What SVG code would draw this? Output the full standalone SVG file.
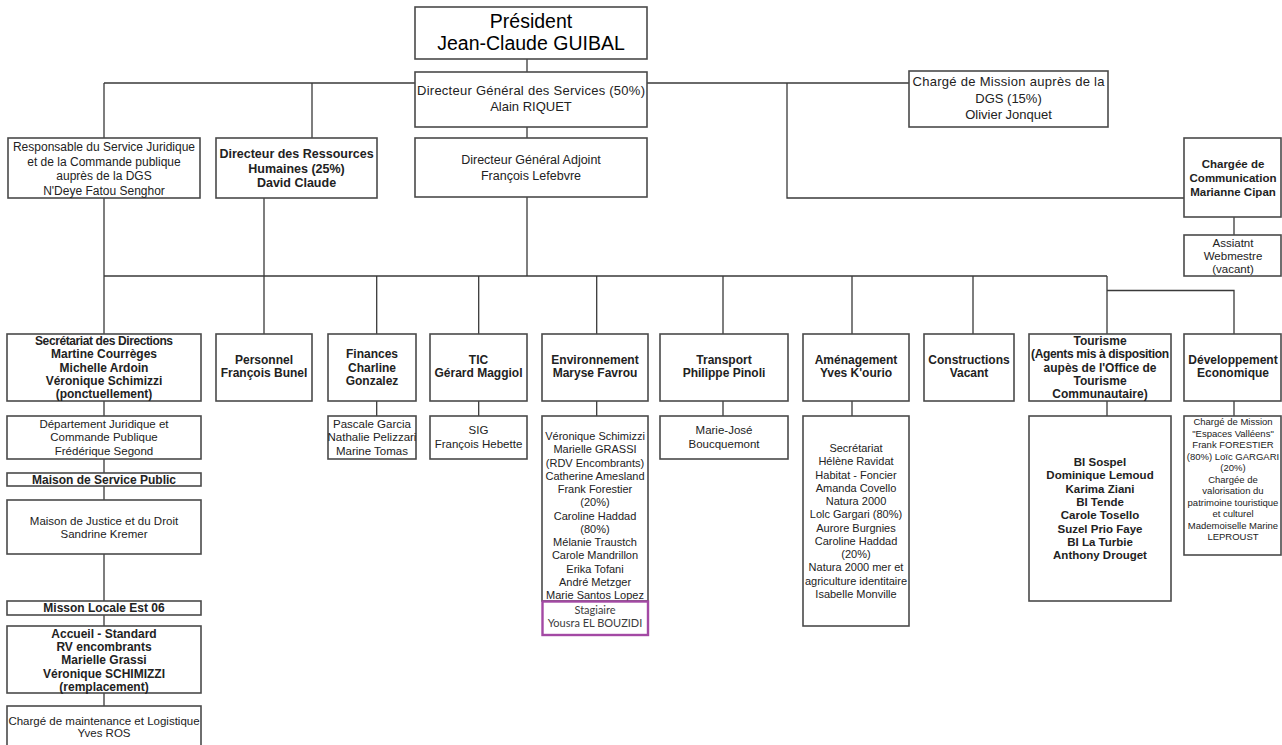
<svg xmlns="http://www.w3.org/2000/svg" width="1282" height="745" viewBox="0 0 1282 745">
<style>
.bg{fill:#ffffff}
.box{fill:#ffffff;stroke:#4a4a4a;stroke-width:1.6}
.stag{fill:#ffffff;stroke:#a349a4;stroke-width:2.4}
.ln{fill:none;stroke:#3a3a3a;stroke-width:1.3}
text{font-family:"Liberation Sans",Arial,sans-serif;fill:#222222;text-anchor:middle}
.r{font-size:12px}
.r13{font-size:13px}
.r125{font-size:12.5px}
.r11{font-size:11px}
.r115{font-size:11.5px}
.r95{font-size:9.5px}
.b{font-size:12px;font-weight:bold}
.b125{font-size:12.5px;font-weight:bold}
.b115{font-size:11.5px;font-weight:bold}
.pres{font-size:19.5px;fill:#000000}
.st{font-family:Lato,"Open Sans",sans-serif;font-size:11px;fill:#3c3c3c}
</style>
<rect class="bg" x="0" y="0" width="1282" height="745"/>

<g id="connectors">
<path class="ln" d="M527 59V72 M527 127V138 M527 197V276"/>
<path class="ln" d="M104 83H415 M647 83H909 M104 83V138 M312 83V138 M787 83V198H1184"/>
<path class="ln" d="M1234 217V235"/>
<path class="ln" d="M104 198V334 M264 198V334 M104 276H1107 M376.7 276V334 M478.7 276V334 M596.7 276V334 M723 276V334 M852 276V334 M973 276V334 M1107 276V334 M1107 290.5H1234V334"/>
<path class="ln" d="M104 401V416 M104 459V473 M104 486V500 M104 554V601 M104 615V626 M104 693V706"/>
<path class="ln" d="M376.7 401V416 M478.7 401V416 M596.7 401V416 M723 401V416 M852 401V416 M1107 401V416 M1234 401V416"/>
</g>

<g id="president">
<rect class="box" x="415" y="7" width="232" height="52"/>
<text class="pres" x="531" y="27.5">Président</text>
<text class="pres" x="531" y="49.5">Jean-Claude GUIBAL</text>
</g>

<g id="dgs">
<rect class="box" x="415" y="72" width="232" height="55"/>
<text class="r13" x="531" y="94.5" textLength="228">Directeur Général des Services (50%)</text>
<text class="r13" x="531" y="110.5">Alain RIQUET</text>
</g>

<g id="charge-mission">
<rect class="box" x="909" y="71" width="199" height="56"/>
<text class="r13" x="1008.5" y="86.2" textLength="192">Chargé de Mission auprès de la</text>
<text class="r13" x="1008.5" y="102.8">DGS (15%)</text>
<text class="r13" x="1008.5" y="118.8">Olivier Jonquet</text>
</g>

<g id="dga">
<rect class="box" x="415" y="138" width="232" height="59"/>
<text class="r125" x="531" y="164.4">Directeur Général Adjoint</text>
<text class="r125" x="531" y="180.4">François Lefebvre</text>
</g>

<g id="responsable-juridique">
<rect class="box" x="8" y="138" width="192" height="60"/>
<text class="r" x="104" y="151">Responsable du Service Juridique</text>
<text class="r" x="104" y="165.7">et de la Commande publique</text>
<text class="r" x="104" y="180.4">auprès de la DGS</text>
<text class="r" x="104" y="195">N'Deye Fatou Senghor</text>
</g>

<g id="drh">
<rect class="box" x="216" y="138" width="161" height="60"/>
<text class="b125" x="296.5" y="157.7">Directeur des Ressources</text>
<text class="b125" x="296.5" y="172.7">Humaines (25%)</text>
<text class="b125" x="296.5" y="187">David Claude</text>
</g>

<g id="communication">
<rect class="box" x="1184" y="138" width="97" height="79"/>
<text class="b115" x="1233" y="168.3">Chargée de</text>
<text class="b115" x="1233" y="182.3">Communication</text>
<text class="b115" x="1233" y="195.7">Marianne Cipan</text>
</g>

<g id="webmestre">
<rect class="box" x="1184" y="235" width="97" height="41"/>
<text class="r115" x="1233" y="247.3">Assiatnt</text>
<text class="r115" x="1233" y="260">Webmestre</text>
<text class="r115" x="1233" y="273.3">(vacant)</text>
</g>

<g id="secretariat">
<rect class="box" x="7" y="334" width="194" height="67"/>
<text class="b" x="104" y="345" textLength="138">Secrétariat des Directions</text>
<text class="b" x="104" y="358.3">Martine Courrèges</text>
<text class="b" x="104" y="371.6">Michelle Ardoin</text>
<text class="b" x="104" y="385">Véronique Schimizzi</text>
<text class="b" x="104" y="398.3">(ponctuellement)</text>
</g>

<g id="departement-juridique">
<rect class="box" x="7" y="416" width="194" height="43"/>
<text class="r115" x="104" y="428">Département Juridique et</text>
<text class="r115" x="104" y="441.3">Commande Publique</text>
<text class="r115" x="104" y="455">Frédérique Segond</text>
</g>

<g id="maison-service-public">
<rect class="box" x="7" y="473" width="194" height="13"/>
<text class="b" x="104" y="483.5">Maison de Service Public</text>
</g>

<g id="maison-justice">
<rect class="box" x="7" y="500" width="194" height="54"/>
<text class="r115" x="104" y="524.7">Maison de Justice et du Droit</text>
<text class="r115" x="104" y="538">Sandrine Kremer</text>
</g>

<g id="mission-locale">
<rect class="box" x="7" y="601" width="194" height="14"/>
<text class="b" x="104" y="611.5">Misson Locale Est 06</text>
</g>

<g id="accueil">
<rect class="box" x="7" y="626" width="194" height="67"/>
<text class="b" x="104" y="637.5">Accueil - Standard</text>
<text class="b" x="104" y="650.9">RV encombrants</text>
<text class="b" x="104" y="664.2">Marielle Grassi</text>
<text class="b" x="104" y="677.5">Véronique SCHIMIZZI</text>
<text class="b" x="104" y="690.9">(remplacement)</text>
</g>

<g id="maintenance">
<rect class="box" x="7" y="706" width="194" height="45"/>
<text class="r115" x="104" y="724.7">Chargé de maintenance et Logistique</text>
<text class="r115" x="104" y="737.3">Yves ROS</text>
</g>

<g id="personnel">
<rect class="box" x="216" y="334" width="96" height="67"/>
<text class="b" x="264" y="364.2">Personnel</text>
<text class="b" x="264" y="377.2">François Bunel</text>
</g>

<g id="finances">
<rect class="box" x="328" y="334" width="88" height="67"/>
<text class="b" x="372" y="358.2">Finances</text>
<text class="b" x="372" y="371.5">Charline</text>
<text class="b" x="372" y="385">Gonzalez</text>
</g>

<g id="finances-equipe">
<rect class="box" x="328" y="416" width="88" height="43"/>
<text class="r115" x="372" y="428">Pascale Garcia</text>
<text class="r115" x="372" y="441.3">Nathalie Pelizzari</text>
<text class="r115" x="372" y="455">Marine Tomas</text>
</g>

<g id="tic">
<rect class="box" x="430" y="334" width="97" height="67"/>
<text class="b" x="478.5" y="364.2">TIC</text>
<text class="b" x="478.5" y="377.2">Gérard Maggiol</text>
</g>

<g id="sig">
<rect class="box" x="430" y="416" width="97" height="43"/>
<text class="r115" x="478.5" y="434">SIG</text>
<text class="r115" x="478.5" y="448">François Hebette</text>
</g>

<g id="environnement">
<rect class="box" x="542" y="334" width="106" height="67"/>
<text class="b" x="595" y="364.2">Environnement</text>
<text class="b" x="595" y="377.2">Maryse Favrou</text>
</g>

<g id="environnement-equipe">
<rect class="box" x="542" y="416" width="106" height="185"/>
<text class="r11" x="595" y="440">Véronique Schimizzi</text>
<text class="r11" x="595" y="453.3">Marielle GRASSI</text>
<text class="r11" x="595" y="466.5">(RDV Encombrants)</text>
<text class="r11" x="595" y="479.8">Catherine Amesland</text>
<text class="r11" x="595" y="493">Frank Forestier</text>
<text class="r11" x="595" y="506.3">(20%)</text>
<text class="r11" x="595" y="519.5">Caroline Haddad</text>
<text class="r11" x="595" y="532.8">(80%)</text>
<text class="r11" x="595" y="546">Mélanie Traustch</text>
<text class="r11" x="595" y="559.3">Carole Mandrillon</text>
<text class="r11" x="595" y="572.5">Erika Tofani</text>
<text class="r11" x="595" y="585.8">André Metzger</text>
<text class="r11" x="595" y="599">Marie Santos Lopez</text>
</g>

<g id="stagiaire">
<rect class="stag" x="542.5" y="601.5" width="105.5" height="33.5"/>
<text class="st" x="595" y="613.8">Stagiaire</text>
<text class="st" x="595" y="626.5">Yousra EL BOUZIDI</text>
</g>

<g id="transport">
<rect class="box" x="660" y="334" width="128" height="67"/>
<text class="b" x="724" y="364.2">Transport</text>
<text class="b" x="724" y="377.2">Philippe Pinoli</text>
</g>

<g id="transport-equipe">
<rect class="box" x="660" y="416" width="128" height="43"/>
<text class="r115" x="724" y="434">Marie-José</text>
<text class="r115" x="724" y="448">Boucquemont</text>
</g>

<g id="amenagement">
<rect class="box" x="803" y="334" width="106" height="67"/>
<text class="b" x="856" y="364.2">Aménagement</text>
<text class="b" x="856" y="377.2">Yves K'ourio</text>
</g>

<g id="amenagement-equipe">
<rect class="box" x="803" y="416" width="106" height="210"/>
<text class="r11" x="856" y="452">Secrétariat</text>
<text class="r11" x="856" y="465.3">Hélène Ravidat</text>
<text class="r11" x="856" y="478.5">Habitat - Foncier</text>
<text class="r11" x="856" y="491.8">Amanda Covello</text>
<text class="r11" x="856" y="505.1">Natura 2000</text>
<text class="r11" x="856" y="518.4">Lolc Gargari (80%)</text>
<text class="r11" x="856" y="531.6">Aurore Burgnies</text>
<text class="r11" x="856" y="544.9">Caroline Haddad</text>
<text class="r11" x="856" y="558.2">(20%)</text>
<text class="r11" x="856" y="571.4">Natura 2000 mer et</text>
<text class="r11" x="856" y="584.7">agriculture identitaire</text>
<text class="r11" x="856" y="598">Isabelle Monville</text>
</g>

<g id="constructions">
<rect class="box" x="924" y="334" width="90" height="67"/>
<text class="b" x="969" y="364.2">Constructions</text>
<text class="b" x="969" y="377.2">Vacant</text>
</g>

<g id="tourisme">
<rect class="box" x="1029" y="334" width="142" height="67"/>
<text class="b" x="1100" y="345">Tourisme</text>
<text class="b" x="1100" y="358.3" textLength="138">(Agents mis à disposition</text>
<text class="b" x="1100" y="371.6">aupès de l'Office de</text>
<text class="b" x="1100" y="385">Tourisme</text>
<text class="b" x="1100" y="398.3">Communautaire)</text>
</g>

<g id="tourisme-equipe">
<rect class="box" x="1029" y="416" width="142" height="185"/>
<text class="b115" x="1100" y="465.9">BI Sospel</text>
<text class="b115" x="1100" y="479.2">Dominique Lemoud</text>
<text class="b115" x="1100" y="492.6">Karima Ziani</text>
<text class="b115" x="1100" y="505.9">BI Tende</text>
<text class="b115" x="1100" y="519.2">Carole Tosello</text>
<text class="b115" x="1100" y="532.6">Suzel Prio Faye</text>
<text class="b115" x="1100" y="545.9">BI La Turbie</text>
<text class="b115" x="1100" y="559.2">Anthony Drouget</text>
</g>

<g id="developpement">
<rect class="box" x="1184" y="334" width="97" height="67"/>
<text class="b" x="1233" y="364.2">Développement</text>
<text class="b" x="1233" y="377.2">Economique</text>
</g>

<g id="developpement-equipe">
<rect class="box" x="1184" y="416" width="97" height="139"/>
<text class="r95" x="1233" y="425">Chargé de Mission</text>
<text class="r95" x="1233" y="436.5">"Espaces Valléens"</text>
<text class="r95" x="1233" y="448">Frank FORESTIER</text>
<text class="r95" x="1233" y="459.6">(80%)  Loïc GARGARI</text>
<text class="r95" x="1233" y="471.1">(20%)</text>
<text class="r95" x="1233" y="482.7">Chargée de</text>
<text class="r95" x="1233" y="494.2">valorisation du</text>
<text class="r95" x="1233" y="505.7">patrimoine touristique</text>
<text class="r95" x="1233" y="517.2">et culturel</text>
<text class="r95" x="1233" y="528.8">Mademoiselle Marine</text>
<text class="r95" x="1233" y="540.3">LEPROUST</text>
</g>
</svg>
